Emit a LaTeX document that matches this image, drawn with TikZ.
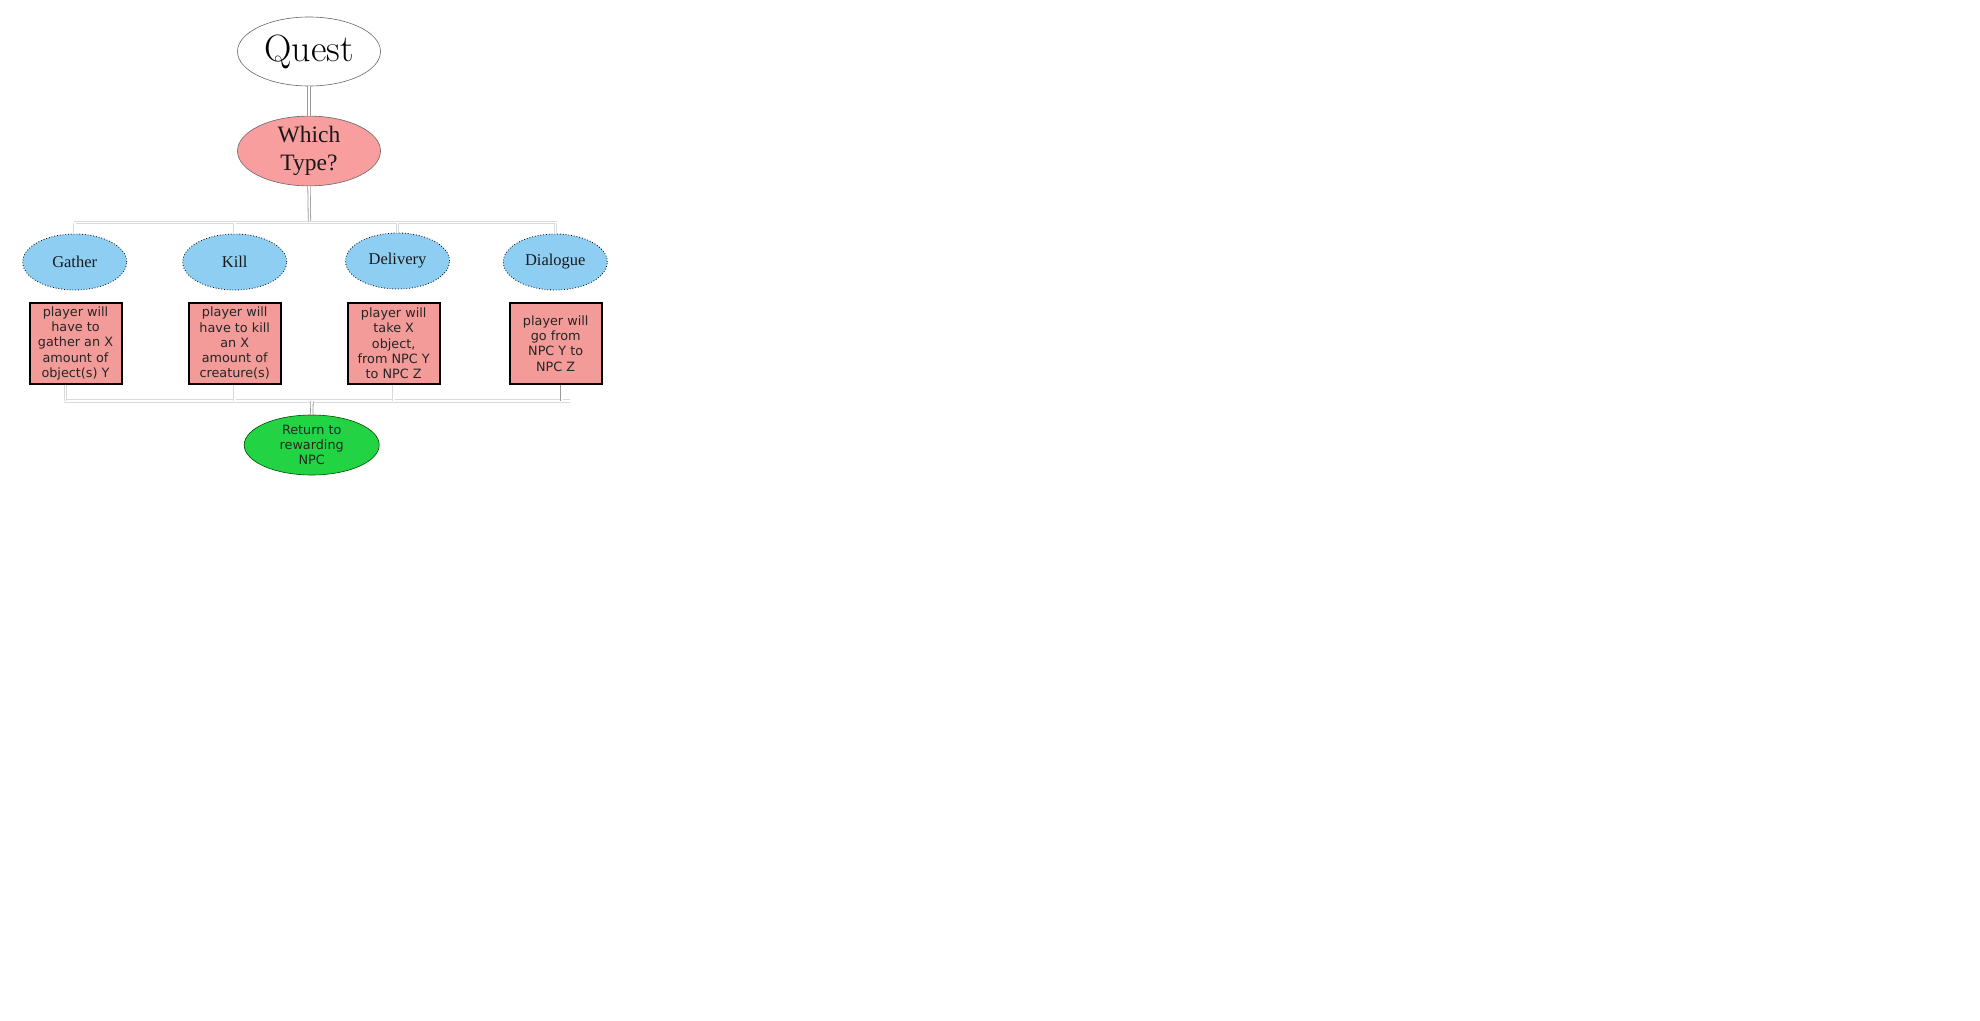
\documentclass[tikz,border=0pt]{standalone}
\usepackage{fontspec}
\setsansfont{DejaVu Sans}
\newfontfamily\labelserif{Liberation Serif}
\usetikzlibrary{shapes.geometric}
\definecolor{whichpink}{HTML}{F99E9E}
\definecolor{bluefill}{HTML}{8ECEF2}
\definecolor{boxpink}{HTML}{F29B98}
\definecolor{greenfill}{HTML}{22D444}
\definecolor{connA}{HTML}{9A9A9A}
\definecolor{connB}{HTML}{DADADA}
\tikzset{
  ell/.style={ellipse, inner sep=0pt, align=center},
  questell/.style={ell, draw=black!60, line width=0.6pt, fill=white, minimum width=143pt, minimum height=69pt},
  whichell/.style={ell, draw=black!60, line width=0.6pt, fill=whichpink, minimum width=143pt, minimum height=68pt},
  typeell/.style={ell, draw=black, dotted, line width=0.8pt, fill=bluefill, minimum width=104pt, minimum height=56pt,
    text=black!90, font=\labelserif\fontsize{16.5}{18}\selectfont},
  descbox/.style={rectangle, draw=black, line width=2pt, fill=boxpink, minimum width=92pt, minimum height=81pt,
    inner sep=0pt, align=center, text=black!85, font=\sffamily\fontsize{12.8}{15.3}\selectfont},
  retell/.style={ell, draw=black!70!green, line width=0.6pt, fill=greenfill, minimum width=135pt, minimum height=60pt,
    text=black!85, font=\sffamily\fontsize{12.8}{15}\selectfont},
  connmain/.style={draw=connA, line width=0.8pt, double=white, double distance=1.6pt},
  connbus/.style={draw=connB, line width=0.8pt, double=white, double distance=1.6pt},
}
\begin{document}
\begin{tikzpicture}[x=1pt,y=-1pt]
\useasboundingbox (0,0) rectangle (1980,1020);

\node[questell, font=\fontsize{38}{40}\selectfont] (quest) at (309,51.5) {Quest};
\node[whichell, text=black!90, font=\labelserif\fontsize{23.5}{28}\selectfont] (which) at (309,151) {Which\\Type?};

\node[typeell] (gather) at (74.7,262) {Gather};
\node[typeell] (kill) at (234.7,262) {Kill};
\node[typeell] (delivery) at (397.5,261) {Delivery};
\node[typeell] (dialogue) at (555.3,262) {Dialogue};

\node[descbox] (gbox) at (75.5,343.3) {player will\\have to\\gather an X\\amount of\\object(s) Y};
\node[descbox] (kbox) at (234.7,343.3) {player will\\have to kill\\an X\\amount of\\creature(s)};
\node[descbox] (dbox) at (393.7,343.3) {player will\\take X\\object,\\from NPC Y\\to NPC Z};
\node[descbox] (gobox) at (555.7,343.3) {player will\\go from\\NPC Y to\\NPC Z};

\node[retell] (ret) at (311.7,445) {Return to\\rewarding\\NPC};

% bus coordinates
\coordinate (tl) at (74,222.5);
\coordinate (tm) at (309.5,222.5);
\coordinate (tr) at (557,222.5);
\coordinate (bl) at (64,401);
\coordinate (bm) at (312,401);
\coordinate (br) at (570,401);

% top connectors
\draw[connmain] (quest) -- (which);
\draw[connmain] (which.south) -- (tm);
\draw[connbus] (tl) -- (tr);
\draw[connbus] (gather.north |- tl) -- (gather.north);
\draw[connbus] (kill.north |- tl) -- (kill.north);
\draw[connbus] (delivery.north |- tl) -- (delivery.north);
\draw[connbus] (dialogue.north |- tl) -- (dialogue.north);

% bottom connectors
\draw[connbus] (bl) -- (br);
\draw[connbus] ([xshift=-10pt]gbox.south) -- ([xshift=-10pt]gbox.south |- bl);
\draw[connbus] (kbox.south) -- (kbox.south |- bl);
\draw[connbus] (dbox.south) -- (dbox.south |- bl);
\draw[connmain] ([xshift=6pt]gobox.south) -- ([xshift=6pt]gobox.south |- bl);
\draw[connmain] (bm) -- (ret.north);
\end{tikzpicture}
\end{document}
